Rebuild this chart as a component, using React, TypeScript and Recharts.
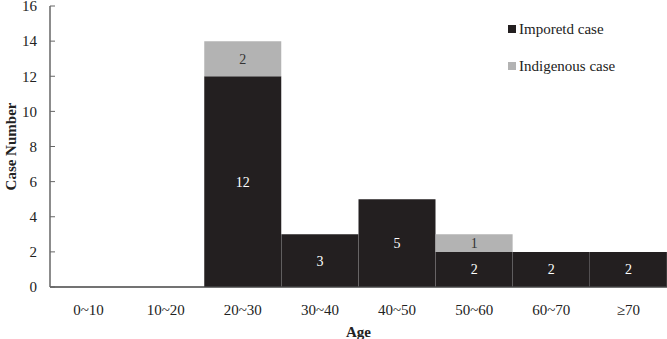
import { Bar, BarChart, Label, LabelList, XAxis, YAxis } from "recharts";

const ageGroups = ["0~10", "10~20", "20~30", "30~40", "40~50", "50~60", "60~70", "≥70"];
const importedCases = [0, 0, 12, 3, 5, 2, 2, 2];
const indigenousCases = [0, 0, 2, 0, 0, 1, 0, 0];
const yTicks = [0, 2, 4, 6, 8, 10, 12, 14, 16];

const data = ageGroups.map((age, i) => ({ age, imported: importedCases[i], indigenous: indigenousCases[i] }));

const FONT = '"Liberation Serif", "Times New Roman", serif';
const BLACK = "#231f20";
const GRAY = "#b3b3b3";

const hideZero = (v: any) => (v ? v : "");

function LegendBox() {
  const items = [
    { name: "Imporetd case", color: BLACK },
    { name: "Indigenous case", color: GRAY },
  ];
  return (
    <div style={{ position: "absolute", left: 508, top: 19, fontFamily: FONT, fontSize: 15, color: "#222" }}>
      {items.map((it) => (
        <div key={it.name} style={{ display: "flex", alignItems: "center", height: 20, marginBottom: 17 }}>
          <span style={{ width: 8, height: 8, background: it.color, marginRight: 3, display: "inline-block" }} />
          {it.name}
        </div>
      ))}
    </div>
  );
}

export default function App() {
  return (
    <div style={{ position: "absolute", left: 0, top: 0, width: 667, height: 339, background: "#fff" }}>
      <BarChart
        width={667}
        height={339}
        data={data}
        barCategoryGap={0}
        margin={{ top: 6, right: 0, bottom: 0, left: 0 }}
        style={{ fontFamily: FONT }}
      >
        <XAxis
          dataKey="age"
          height={52}
          tickLine={false}
          tickMargin={11}
          axisLine={{ stroke: "#444", strokeWidth: 1.5 }}
          tick={{ fontSize: 15, fill: "#222", fontFamily: FONT }}
          interval={0}
        >
          <Label value="Age" position="insideBottom" offset={2} style={{ fontSize: 15, fontWeight: "bold", fill: "#222", fontFamily: FONT }} />
        </XAxis>
        <YAxis
          width={50}
          domain={[0, 16]}
          ticks={yTicks}
          interval={0}
          tickSize={-5}
          tickMargin={18}
          axisLine={{ stroke: "#666", strokeWidth: 1.5 }}
          tickLine={{ stroke: "#666" }}
          tick={{ fontSize: 15, fill: "#222", fontFamily: FONT }}
        >
          <Label
            value="Case Number"
            angle={-90}
            position="insideLeft"
            offset={11}
            style={{ textAnchor: "middle", fontSize: 15, fontWeight: "bold", fill: "#222", fontFamily: FONT }}
          />
        </YAxis>
        <Bar dataKey="imported" stackId="a" fill={BLACK} name="Imporetd case" isAnimationActive={false}>
          <LabelList dataKey="imported" position="center" formatter={hideZero} style={{ fill: "#fff", fontSize: 14, fontFamily: FONT }} />
        </Bar>
        <Bar dataKey="indigenous" stackId="a" fill={GRAY} name="Indigenous case" isAnimationActive={false}>
          <LabelList dataKey="indigenous" position="center" formatter={hideZero} style={{ fill: "#333", fontSize: 14, fontFamily: FONT }} />
        </Bar>
      </BarChart>
      <LegendBox />
    </div>
  );
}
